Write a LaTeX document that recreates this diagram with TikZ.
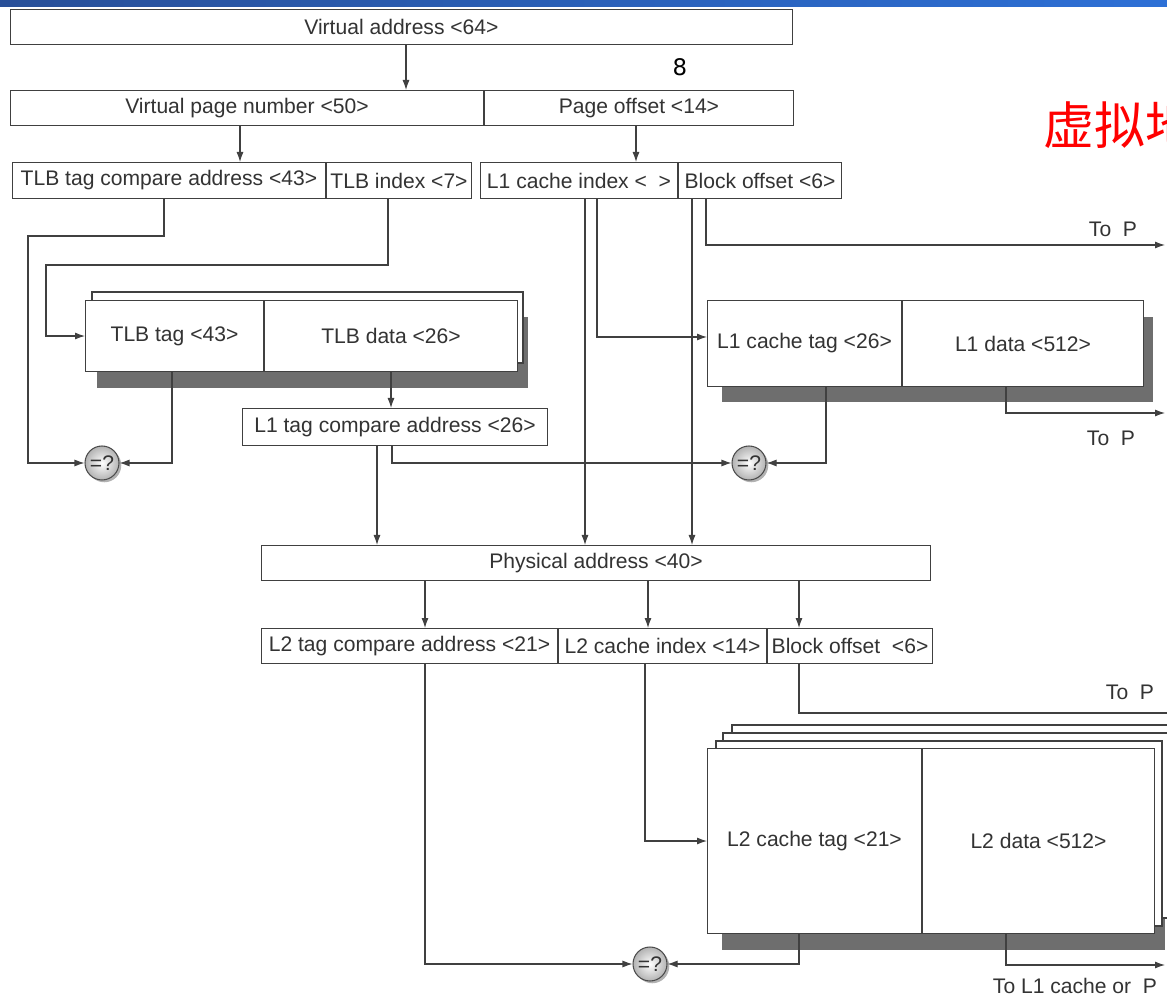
\documentclass[tikz,border=0pt]{standalone}
\usepackage{fontspec}
\setmainfont{Liberation Sans}
\newfontfamily\cjkfont{Noto Sans CJK SC}
\newfontfamily\numfont{DejaVu Sans}
\usepackage{tikz}
\usetikzlibrary{arrows.meta, positioning, calc, shadows}
\definecolor{barL}{HTML}{284F98}
\definecolor{barR}{HTML}{2D70D6}

\begin{document}
\begin{tikzpicture}[x=0.02cm, y=-0.02cm,
  fld/.style={draw=black!75, line width=0.6pt, fill=white, anchor=north west, inner sep=0pt,
    font=\fontsize{12}{14}\selectfont, text=black!80},
  arr/.style={draw=black!75, line width=0.6pt, -{Latex[length=2mm,width=1.4mm]}},
  wire/.style={draw=black!75, line width=0.6pt},
  cmp/.style={circle, draw=black!70, line width=0.6pt, inner color=white, outer color=black!30,
    minimum size=0.68cm, inner sep=0pt, font=\fontsize{12}{14}\selectfont, text=black!80,
    drop shadow={shadow xshift=1.3pt, shadow yshift=-1.3pt, fill=black!60}},
  lbl/.style={font=\fontsize{12}{14}\selectfont, text=black!80, inner sep=0pt},
  shd/.style={fill=black!57},
  back/.style={draw=black!75, line width=0.6pt, fill=white}]
  \useasboundingbox (0,0) rectangle (1167,996);
  \shade[left color=barL, right color=barR] (0,0) rectangle (1167,7);

  \node[fld, minimum width=15.64cm, minimum height=0.70cm] (va) at (10,9) {Virtual address <64>};
  \node[font=\numfont\fontsize{13}{15}\selectfont] (eight) at (680,67) {8};
  \node[anchor=west, text=red, inner sep=0pt, font=\cjkfont\fontsize{29}{32}\selectfont] (cjk) at (1043,125) {虚拟地};

  \node[fld, minimum width=9.46cm, minimum height=0.70cm] (vpn) at (10,90) {Virtual page number <50>};
  \node[fld, minimum width=6.18cm, minimum height=0.70cm] (po) at (vpn.north east) {Page offset <14>};

  \node[fld, minimum width=6.26cm, minimum height=0.72cm] (tlbcmp) at (12,162) {TLB tag compare address <43>};
  \node[fld, minimum width=2.90cm, minimum height=0.72cm] (tlbidx) at (tlbcmp.north east) {TLB index <7>};
  \node[fld, minimum width=3.94cm, minimum height=0.72cm] (l1idx) at (480,162) {L1 cache index < \ >};
  \node[fld, minimum width=3.26cm, minimum height=0.72cm] (boff1) at (l1idx.north east) {Block offset <6>};

  \fill[shd] (97,317) rectangle (528,388);
  \draw[back] (92,292) rectangle (523,363);
  \node[fld, minimum width=3.56cm, minimum height=1.42cm] (tlbtag) at (85,300) {TLB tag <43>};
  \node[fld, minimum width=5.06cm, minimum height=1.42cm] (tlbdata) at (tlbtag.north east) {TLB data <26>};

  \node[fld, minimum width=6.10cm, minimum height=0.74cm] (l1cmp) at (242,408) {L1 tag compare address <26>};

  \fill[shd] (722,317) rectangle (1153,402);
  \node[fld, minimum width=3.88cm, minimum height=1.72cm] (l1tag) at (707,300) {L1 cache tag <26>};
  \node[fld, minimum width=4.82cm, minimum height=1.72cm] (l1data) at (l1tag.north east) {L1 data <512>};

  \node[fld, minimum width=13.38cm, minimum height=0.70cm] (pa) at (261,545) {Physical address <40>};

  \node[fld, minimum width=5.92cm, minimum height=0.70cm] (l2cmp) at (261,628) {L2 tag compare address <21>};
  \node[fld, minimum width=4.16cm, minimum height=0.70cm] (l2idx) at (l2cmp.north east) {L2 cache index <14>};
  \node[fld, minimum width=3.30cm, minimum height=0.70cm] (boff2) at (l2idx.north east) {Block offset \ <6>};

  \fill[shd] (722,765) rectangle (1165,950);
  \foreach \dx/\dy in {25/23, 16/15, 9/7}
    \draw[back] (707+\dx,748-\dy) rectangle (1153+\dx,933-\dy);
  \node[fld, minimum width=4.28cm, minimum height=3.70cm] (l2tag) at (707,748) {L2 cache tag <21>};
  \node[fld, minimum width=4.64cm, minimum height=3.70cm] (l2data) at (l2tag.north east) {L2 data <512>};

  \node[cmp] (c1) at (102,463) {=?};
  \node[cmp] (c2) at (749,463) {=?};
  \node[cmp] (c3) at (650,964) {=?};

  \coordinate (outA) at (1165,245);
  \coordinate (outB) at (1165,413);
  \coordinate (outC) at (1167,713);
  \coordinate (outD) at (1165,965);

  \draw[arr] (va.south -| 406,0) -- (vpn.north -| 406,0);
  \draw[arr] (vpn.south -| 240,0) -- (tlbcmp.north -| 240,0);
  \draw[arr] (po.south -| 636,0) -- (l1idx.north -| 636,0);
  \draw[arr] (tlbcmp.south -| 164,0) |- (28,236) |- (c1.west);
  \draw[arr] (tlbidx.south -| 388,0) |- (46,265) |- (tlbtag.west);
  \draw[arr] (tlbtag.south -| 172,0) |- (c1.east);
  \draw[arr] (tlbdata.south -| 391,0) -- (l1cmp.north -| 391,0);
  \draw[arr] (l1cmp.south -| 377,0) -- (pa.north -| 377,0);
  \draw[arr] (l1cmp.south -| 392,0) |- (c2.west);
  \draw[arr] (l1idx.south -| 585,0) -- (pa.north -| 585,0);
  \draw[arr] (l1idx.south -| 597,0) |- (l1tag.west |- 0,337);
  \draw[arr] (boff1.south -| 692,0) -- (pa.north -| 692,0);
  \draw[arr] (boff1.south -| 706,0) |- (outA);
  \draw[arr] (l1tag.south -| 826,0) |- (c2.east);
  \draw[arr] (l1data.south -| 1006,0) |- (outB);
  \foreach \xx/\tgt in {425/l2cmp, 648/l2idx, 799/boff2}
    \draw[arr] (pa.south -| \xx,0) -- (\tgt.north -| \xx,0);
  \draw[arr] (l2cmp.south -| 425,0) |- (c3.west);
  \draw[arr] (l2idx.south -| 645,0) |- (l2tag.west);
  \draw[wire] (boff2.south -| 799,0) |- (outC);
  \draw[arr] (l2tag.south -| 799,0) |- (c3.east);
  \draw[arr] (l2data.south -| 1006,0) |- (outD);

  \node[lbl] (toA) at (1113,229) {To\ \ P};
  \node[lbl] (toB) at (1111,438) {To\ \ P};
  \node[lbl] (toC) at (1130,692) {To\ \ P};
  \node[lbl] (toD) at (1075,986) {To L1 cache or\ \ P};
\end{tikzpicture}
\end{document}
